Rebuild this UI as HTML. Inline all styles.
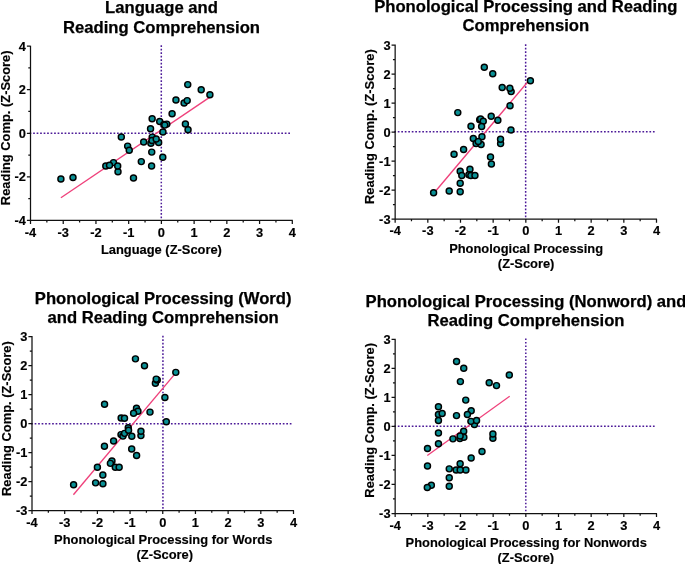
<!DOCTYPE html>
<html lang="en">
<head>
<meta charset="utf-8">
<title>Reading comprehension scatter plots</title>
<style>
html,body{margin:0;padding:0;background:#fff;}
body{width:685px;height:564px;overflow:hidden;}
svg{display:block;will-change:transform;font-family:"Liberation Sans", Arial, Helvetica, sans-serif;font-weight:700;fill:#000;}
.ttl{font-size:16.65px;text-anchor:middle;stroke:#000;stroke-width:0.25px;}
.axt{font-size:12.9px;text-anchor:middle;stroke:#000;stroke-width:0.15px;}
.tk{font-size:12.85px;text-anchor:middle;stroke:#000;stroke-width:0.15px;}
.tky{text-anchor:end;}
.ax{fill:none;stroke:#111;stroke-width:1.25;}
.zero{fill:none;stroke:#4c1a98;stroke-width:1.5;stroke-dasharray:1.7 1.795;}
.reg{fill:none;stroke:#ef417b;stroke-width:1.35;}
.dots circle{fill:#0a9095;stroke:#000;stroke-width:1.45;}
</style>
</head>
<body>
<svg width="685" height="564" viewBox="0 0 685 564">
<rect width="685" height="564" fill="#fff"/>
<g id="p1">
<text class="ttl" x="161.5" y="13">Language and</text>
<text class="ttl" x="161.5" y="32.6">Reading Comprehension</text>
<text class="axt" transform="translate(161.4 254.2) scale(1 1.06)">Language (Z-Score)</text>
<text class="axt" transform="translate(10 127.8) rotate(-90) scale(1 1.06)">Reading Comp. (Z-Score)</text>
<path class="zero" d="M161.3 45.35V220.3M29.65 133.35H291.3"/>
<path class="ax" d="M30.5 45.7V220.3M30 220.3H292.8M30.5 220.3v3.6M46.86 220.3v2.2M63.23 220.3v3.6M79.59 220.3v2.2M95.95 220.3v3.6M112.31 220.3v2.2M128.68 220.3v3.6M145.04 220.3v2.2M161.4 220.3v3.6M177.76 220.3v2.2M194.12 220.3v3.6M210.49 220.3v2.2M226.85 220.3v3.6M243.21 220.3v2.2M259.58 220.3v3.6M275.94 220.3v2.2M292.3 220.3v3.6M30.5 220.3h-3.6M30.5 198.54h-2.2M30.5 176.78h-3.6M30.5 155.01h-2.2M30.5 133.25h-3.6M30.5 111.49h-2.2M30.5 89.72h-3.6M30.5 67.96h-2.2M30.5 46.2h-3.6"/>
<text class="tk" transform="translate(30.5 236.5) scale(1 1.06)">-4</text>
<text class="tk" transform="translate(63.23 236.5) scale(1 1.06)">-3</text>
<text class="tk" transform="translate(95.95 236.5) scale(1 1.06)">-2</text>
<text class="tk" transform="translate(128.68 236.5) scale(1 1.06)">-1</text>
<text class="tk" transform="translate(161.4 236.5) scale(1 1.06)">0</text>
<text class="tk" transform="translate(194.12 236.5) scale(1 1.06)">1</text>
<text class="tk" transform="translate(226.85 236.5) scale(1 1.06)">2</text>
<text class="tk" transform="translate(259.58 236.5) scale(1 1.06)">3</text>
<text class="tk" transform="translate(292.3 236.5) scale(1 1.06)">4</text>
<text class="tk tky" transform="translate(25.9 224.9) scale(1 1.06)">-4</text>
<text class="tk tky" transform="translate(25.9 181.38) scale(1 1.06)">-2</text>
<text class="tk tky" transform="translate(25.9 137.85) scale(1 1.06)">0</text>
<text class="tk tky" transform="translate(25.9 94.32) scale(1 1.06)">2</text>
<text class="tk tky" transform="translate(25.9 50.8) scale(1 1.06)">4</text>
<path class="reg" d="M60.9 197.7L209.9 97.1"/>
<g class="dots">
<circle cx="60.9" cy="179" r="3.0"/>
<circle cx="73" cy="177.5" r="3.0"/>
<circle cx="105.8" cy="165.95" r="3.0"/>
<circle cx="113.5" cy="162.6" r="3.0"/>
<circle cx="109.5" cy="165.3" r="3.0"/>
<circle cx="118" cy="171.65" r="3.0"/>
<circle cx="117.7" cy="165.9" r="3.0"/>
<circle cx="121.3" cy="136.9" r="3.0"/>
<circle cx="127.65" cy="146.1" r="3.0"/>
<circle cx="129.25" cy="150.2" r="3.0"/>
<circle cx="143.7" cy="141.95" r="3.0"/>
<circle cx="133.5" cy="178" r="3.0"/>
<circle cx="141.3" cy="161.6" r="3.0"/>
<circle cx="151.6" cy="166" r="3.0"/>
<circle cx="151.75" cy="152.1" r="3.0"/>
<circle cx="162.8" cy="157.2" r="3.0"/>
<circle cx="150.9" cy="143.3" r="3.0"/>
<circle cx="152.2" cy="137.1" r="3.0"/>
<circle cx="152" cy="140.4" r="3.0"/>
<circle cx="158.65" cy="142.4" r="3.0"/>
<circle cx="156.2" cy="138.9" r="3.0"/>
<circle cx="150.55" cy="128.8" r="3.0"/>
<circle cx="152.15" cy="118.8" r="3.0"/>
<circle cx="159.7" cy="121.55" r="3.0"/>
<circle cx="163.9" cy="124.5" r="3.0"/>
<circle cx="166.8" cy="124.1" r="3.0"/>
<circle cx="164.75" cy="125.1" r="3.0"/>
<circle cx="162.95" cy="131.9" r="3.0"/>
<circle cx="172.1" cy="113.65" r="3.0"/>
<circle cx="185.4" cy="123.95" r="3.0"/>
<circle cx="188.05" cy="129.7" r="3.0"/>
<circle cx="175.95" cy="99.95" r="3.0"/>
<circle cx="184.1" cy="102.95" r="3.0"/>
<circle cx="187.2" cy="100.6" r="3.0"/>
<circle cx="187.75" cy="84.6" r="3.0"/>
<circle cx="201.2" cy="89.7" r="3.0"/>
<circle cx="209.9" cy="94.8" r="3.0"/>
</g>
</g>
<g id="p2">
<text class="ttl" x="525.8" y="11.8">Phonological Processing and Reading</text>
<text class="ttl" x="525.8" y="30.9">Comprehension</text>
<text class="axt" transform="translate(526.12 252.8) scale(1 1.06)">Phonological Processing</text>
<text class="axt" transform="translate(526.12 267.6) scale(1 1.06)">(Z-Score)</text>
<text class="axt" transform="translate(374.3 126.65) rotate(-90) scale(1 1.06)">Reading Comp. (Z-Score)</text>
<path class="zero" d="M525.65 44.25V219.1M394.3 131.85H655.5"/>
<path class="ax" d="M395.15 44.6V219.1M394.65 219.1H657M395.15 219.1v3.6M411.48 219.1v2.2M427.82 219.1v3.6M444.15 219.1v2.2M460.49 219.1v3.6M476.82 219.1v2.2M493.16 219.1v3.6M509.49 219.1v2.2M525.83 219.1v3.6M542.16 219.1v2.2M558.49 219.1v3.6M574.83 219.1v2.2M591.16 219.1v3.6M607.5 219.1v2.2M623.83 219.1v3.6M640.17 219.1v2.2M656.5 219.1v3.6M395.15 219.1h-3.6M395.15 204.6h-2.2M395.15 190.1h-3.6M395.15 175.6h-2.2M395.15 161.1h-3.6M395.15 146.6h-2.2M395.15 132.1h-3.6M395.15 117.6h-2.2M395.15 103.1h-3.6M395.15 88.6h-2.2M395.15 74.1h-3.6M395.15 59.6h-2.2M395.15 45.1h-3.6"/>
<text class="tk" transform="translate(395.15 235.3) scale(1 1.06)">-4</text>
<text class="tk" transform="translate(427.82 235.3) scale(1 1.06)">-3</text>
<text class="tk" transform="translate(460.49 235.3) scale(1 1.06)">-2</text>
<text class="tk" transform="translate(493.16 235.3) scale(1 1.06)">-1</text>
<text class="tk" transform="translate(525.83 235.3) scale(1 1.06)">0</text>
<text class="tk" transform="translate(558.49 235.3) scale(1 1.06)">1</text>
<text class="tk" transform="translate(591.16 235.3) scale(1 1.06)">2</text>
<text class="tk" transform="translate(623.83 235.3) scale(1 1.06)">3</text>
<text class="tk" transform="translate(656.5 235.3) scale(1 1.06)">4</text>
<text class="tk tky" transform="translate(390.55 223.7) scale(1 1.06)">-3</text>
<text class="tk tky" transform="translate(390.55 194.7) scale(1 1.06)">-2</text>
<text class="tk tky" transform="translate(390.55 165.7) scale(1 1.06)">-1</text>
<text class="tk tky" transform="translate(390.55 136.7) scale(1 1.06)">0</text>
<text class="tk tky" transform="translate(390.55 107.7) scale(1 1.06)">1</text>
<text class="tk tky" transform="translate(390.55 78.7) scale(1 1.06)">2</text>
<text class="tk tky" transform="translate(390.55 49.7) scale(1 1.06)">3</text>
<path class="reg" d="M433.6 193.5L530.4 78.7"/>
<g class="dots">
<circle cx="433.6" cy="192.7" r="3.0"/>
<circle cx="449.2" cy="190.95" r="3.0"/>
<circle cx="460.2" cy="191.8" r="3.0"/>
<circle cx="460.2" cy="183.25" r="3.0"/>
<circle cx="460.2" cy="171.3" r="3.0"/>
<circle cx="461.8" cy="175.45" r="3.0"/>
<circle cx="469.95" cy="169.3" r="3.0"/>
<circle cx="468.9" cy="174.65" r="3.0"/>
<circle cx="470.85" cy="175.5" r="3.0"/>
<circle cx="474.95" cy="175.4" r="3.0"/>
<circle cx="454.05" cy="154.25" r="3.0"/>
<circle cx="463.6" cy="149.5" r="3.0"/>
<circle cx="457.8" cy="112.6" r="3.0"/>
<circle cx="471" cy="126.15" r="3.0"/>
<circle cx="479.7" cy="119.7" r="3.0"/>
<circle cx="480.6" cy="118.9" r="3.0"/>
<circle cx="483.25" cy="121.3" r="3.0"/>
<circle cx="481.65" cy="126.4" r="3.0"/>
<circle cx="491.2" cy="116.3" r="3.0"/>
<circle cx="497.85" cy="120.25" r="3.0"/>
<circle cx="510.05" cy="105.65" r="3.0"/>
<circle cx="510.95" cy="130" r="3.0"/>
<circle cx="481.95" cy="136.65" r="3.0"/>
<circle cx="473.3" cy="138.55" r="3.0"/>
<circle cx="476.1" cy="143.5" r="3.0"/>
<circle cx="481.1" cy="144.45" r="3.0"/>
<circle cx="478.25" cy="141.45" r="3.0"/>
<circle cx="500.6" cy="143.6" r="3.0"/>
<circle cx="500.55" cy="139.27" r="3.0"/>
<circle cx="490.5" cy="157" r="3.0"/>
<circle cx="491.4" cy="164.05" r="3.0"/>
<circle cx="484.3" cy="67.25" r="3.0"/>
<circle cx="492.75" cy="73.8" r="3.0"/>
<circle cx="502.2" cy="87.55" r="3.0"/>
<circle cx="511.15" cy="91.6" r="3.0"/>
<circle cx="509.85" cy="88.25" r="3.0"/>
<circle cx="530.4" cy="80.7" r="3.0"/>
</g>
</g>
<g id="p3">
<text class="ttl" x="163.2" y="304.2">Phonological Processing (Word)</text>
<text class="ttl" x="163.2" y="323.2">and Reading Comprehension</text>
<text class="axt" transform="translate(163.2 543.75) scale(1 1.06)">Phonological Processing for Words</text>
<text class="axt" transform="translate(164.75 558.5) scale(1 1.06)">(Z-Score)</text>
<text class="axt" transform="translate(11 418.6) rotate(-90) scale(1 1.06)">Reading Comp. (Z-Score)</text>
<path class="zero" d="M162.93 335.75V510.5M31.15 423.85H292.5"/>
<path class="ax" d="M32 336.1V510.5M31.5 510.5H294M32 510.5v3.6M48.34 510.5v2.2M64.69 510.5v3.6M81.03 510.5v2.2M97.38 510.5v3.6M113.72 510.5v2.2M130.06 510.5v3.6M146.41 510.5v2.2M162.75 510.5v3.6M179.09 510.5v2.2M195.44 510.5v3.6M211.78 510.5v2.2M228.12 510.5v3.6M244.47 510.5v2.2M260.81 510.5v3.6M277.16 510.5v2.2M293.5 510.5v3.6M32 510.5h-3.6M32 496.01h-2.2M32 481.52h-3.6M32 467.02h-2.2M32 452.53h-3.6M32 438.04h-2.2M32 423.55h-3.6M32 409.06h-2.2M32 394.57h-3.6M32 380.08h-2.2M32 365.58h-3.6M32 351.09h-2.2M32 336.6h-3.6"/>
<text class="tk" transform="translate(32 526.7) scale(1 1.06)">-4</text>
<text class="tk" transform="translate(64.69 526.7) scale(1 1.06)">-3</text>
<text class="tk" transform="translate(97.38 526.7) scale(1 1.06)">-2</text>
<text class="tk" transform="translate(130.06 526.7) scale(1 1.06)">-1</text>
<text class="tk" transform="translate(162.75 526.7) scale(1 1.06)">0</text>
<text class="tk" transform="translate(195.44 526.7) scale(1 1.06)">1</text>
<text class="tk" transform="translate(228.12 526.7) scale(1 1.06)">2</text>
<text class="tk" transform="translate(260.81 526.7) scale(1 1.06)">3</text>
<text class="tk" transform="translate(293.5 526.7) scale(1 1.06)">4</text>
<text class="tk tky" transform="translate(27.4 515.1) scale(1 1.06)">-3</text>
<text class="tk tky" transform="translate(27.4 486.12) scale(1 1.06)">-2</text>
<text class="tk tky" transform="translate(27.4 457.13) scale(1 1.06)">-1</text>
<text class="tk tky" transform="translate(27.4 428.15) scale(1 1.06)">0</text>
<text class="tk tky" transform="translate(27.4 399.17) scale(1 1.06)">1</text>
<text class="tk tky" transform="translate(27.4 370.18) scale(1 1.06)">2</text>
<text class="tk tky" transform="translate(27.4 341.2) scale(1 1.06)">3</text>
<path class="reg" d="M73.4 494.7L175.8 372.9"/>
<g class="dots">
<circle cx="73.6" cy="484.65" r="3.0"/>
<circle cx="95.6" cy="482.85" r="3.0"/>
<circle cx="102.9" cy="483.65" r="3.0"/>
<circle cx="102.85" cy="475" r="3.0"/>
<circle cx="97.4" cy="467.3" r="3.0"/>
<circle cx="111.95" cy="460.9" r="3.0"/>
<circle cx="110.4" cy="463.35" r="3.0"/>
<circle cx="115.3" cy="467.3" r="3.0"/>
<circle cx="119.15" cy="467.3" r="3.0"/>
<circle cx="104.45" cy="446.2" r="3.0"/>
<circle cx="113.6" cy="441" r="3.0"/>
<circle cx="104.55" cy="404.3" r="3.0"/>
<circle cx="121.15" cy="417.9" r="3.0"/>
<circle cx="124.5" cy="418.2" r="3.0"/>
<circle cx="121" cy="434.6" r="3.0"/>
<circle cx="122.95" cy="436.1" r="3.0"/>
<circle cx="124.55" cy="433.35" r="3.0"/>
<circle cx="128.25" cy="427.7" r="3.0"/>
<circle cx="128.55" cy="430.3" r="3.0"/>
<circle cx="131.8" cy="436.25" r="3.0"/>
<circle cx="140.95" cy="435.6" r="3.0"/>
<circle cx="140.95" cy="431.3" r="3.0"/>
<circle cx="131.7" cy="449" r="3.0"/>
<circle cx="136.6" cy="455.55" r="3.0"/>
<circle cx="136.5" cy="408.15" r="3.0"/>
<circle cx="137.95" cy="411.3" r="3.0"/>
<circle cx="133.6" cy="413.2" r="3.0"/>
<circle cx="150" cy="412.1" r="3.0"/>
<circle cx="135.45" cy="358.85" r="3.0"/>
<circle cx="144.5" cy="365.7" r="3.0"/>
<circle cx="155.4" cy="383.3" r="3.0"/>
<circle cx="157.25" cy="380.05" r="3.0"/>
<circle cx="156.2" cy="379.1" r="3.0"/>
<circle cx="164.9" cy="397.5" r="3.0"/>
<circle cx="166.3" cy="421.75" r="3.0"/>
<circle cx="175.8" cy="372.35" r="3.0"/>
</g>
</g>
<g id="p4">
<text class="ttl" x="526" y="306.9">Phonological Processing (Nonword) and</text>
<text class="ttl" x="526" y="326.2">Reading Comprehension</text>
<text class="axt" transform="translate(526.23 546.8) scale(1 1.06)">Phonological Processing for Nonwords</text>
<text class="axt" transform="translate(525.83 561.8) scale(1 1.06)">(Z-Score)</text>
<text class="axt" transform="translate(374.3 420.3) rotate(-90) scale(1 1.06)">Reading Comp. (Z-Score)</text>
<path class="zero" d="M525.8 338.4V513.5M394.3 426.25H655.5"/>
<path class="ax" d="M395.15 338.75V513.5M394.65 513.5H657M395.15 513.5v3.6M411.48 513.5v2.2M427.82 513.5v3.6M444.15 513.5v2.2M460.49 513.5v3.6M476.82 513.5v2.2M493.16 513.5v3.6M509.49 513.5v2.2M525.83 513.5v3.6M542.16 513.5v2.2M558.49 513.5v3.6M574.83 513.5v2.2M591.16 513.5v3.6M607.5 513.5v2.2M623.83 513.5v3.6M640.17 513.5v2.2M656.5 513.5v3.6M395.15 513.5h-3.6M395.15 498.98h-2.2M395.15 484.46h-3.6M395.15 469.94h-2.2M395.15 455.42h-3.6M395.15 440.9h-2.2M395.15 426.38h-3.6M395.15 411.85h-2.2M395.15 397.33h-3.6M395.15 382.81h-2.2M395.15 368.29h-3.6M395.15 353.77h-2.2M395.15 339.25h-3.6"/>
<text class="tk" transform="translate(395.15 529.7) scale(1 1.06)">-4</text>
<text class="tk" transform="translate(427.82 529.7) scale(1 1.06)">-3</text>
<text class="tk" transform="translate(460.49 529.7) scale(1 1.06)">-2</text>
<text class="tk" transform="translate(493.16 529.7) scale(1 1.06)">-1</text>
<text class="tk" transform="translate(525.83 529.7) scale(1 1.06)">0</text>
<text class="tk" transform="translate(558.49 529.7) scale(1 1.06)">1</text>
<text class="tk" transform="translate(591.16 529.7) scale(1 1.06)">2</text>
<text class="tk" transform="translate(623.83 529.7) scale(1 1.06)">3</text>
<text class="tk" transform="translate(656.5 529.7) scale(1 1.06)">4</text>
<text class="tk tky" transform="translate(390.55 518.1) scale(1 1.06)">-3</text>
<text class="tk tky" transform="translate(390.55 489.06) scale(1 1.06)">-2</text>
<text class="tk tky" transform="translate(390.55 460.02) scale(1 1.06)">-1</text>
<text class="tk tky" transform="translate(390.55 430.98) scale(1 1.06)">0</text>
<text class="tk tky" transform="translate(390.55 401.93) scale(1 1.06)">1</text>
<text class="tk tky" transform="translate(390.55 372.89) scale(1 1.06)">2</text>
<text class="tk tky" transform="translate(390.55 343.85) scale(1 1.06)">3</text>
<path class="reg" d="M427.3 455.55L509.7 396.2"/>
<g class="dots">
<circle cx="427.5" cy="448.5" r="3.0"/>
<circle cx="438.45" cy="443.75" r="3.0"/>
<circle cx="427.5" cy="465.95" r="3.0"/>
<circle cx="431.35" cy="485.25" r="3.0"/>
<circle cx="427.3" cy="487.4" r="3.0"/>
<circle cx="449.25" cy="486.3" r="3.0"/>
<circle cx="449.25" cy="477.65" r="3.0"/>
<circle cx="449.25" cy="468.85" r="3.0"/>
<circle cx="456.15" cy="469.9" r="3.0"/>
<circle cx="460.15" cy="463.7" r="3.0"/>
<circle cx="465.9" cy="469.9" r="3.0"/>
<circle cx="460.15" cy="469.9" r="3.0"/>
<circle cx="471.15" cy="458.05" r="3.0"/>
<circle cx="482" cy="451.45" r="3.0"/>
<circle cx="438.45" cy="406.75" r="3.0"/>
<circle cx="438.45" cy="414.45" r="3.0"/>
<circle cx="442.15" cy="413.55" r="3.0"/>
<circle cx="438.45" cy="420.5" r="3.0"/>
<circle cx="438.45" cy="433.05" r="3.0"/>
<circle cx="456.5" cy="415.6" r="3.0"/>
<circle cx="465.75" cy="400.1" r="3.0"/>
<circle cx="471.2" cy="410.75" r="3.0"/>
<circle cx="467.4" cy="414.5" r="3.0"/>
<circle cx="474.45" cy="424.55" r="3.0"/>
<circle cx="470.9" cy="421.35" r="3.0"/>
<circle cx="476.55" cy="420.4" r="3.0"/>
<circle cx="463.7" cy="431.15" r="3.0"/>
<circle cx="452.95" cy="438.85" r="3.0"/>
<circle cx="459.9" cy="438.5" r="3.0"/>
<circle cx="463.85" cy="437.3" r="3.0"/>
<circle cx="460.15" cy="436" r="3.0"/>
<circle cx="492.9" cy="438.15" r="3.0"/>
<circle cx="492.9" cy="433.95" r="3.0"/>
<circle cx="456.55" cy="361.4" r="3.0"/>
<circle cx="463.75" cy="368.3" r="3.0"/>
<circle cx="460.4" cy="381.6" r="3.0"/>
<circle cx="489.2" cy="382.75" r="3.0"/>
<circle cx="496.5" cy="385.6" r="3.0"/>
<circle cx="509.3" cy="375" r="3.0"/>
</g>
</g>
</svg>
</body>
</html>
